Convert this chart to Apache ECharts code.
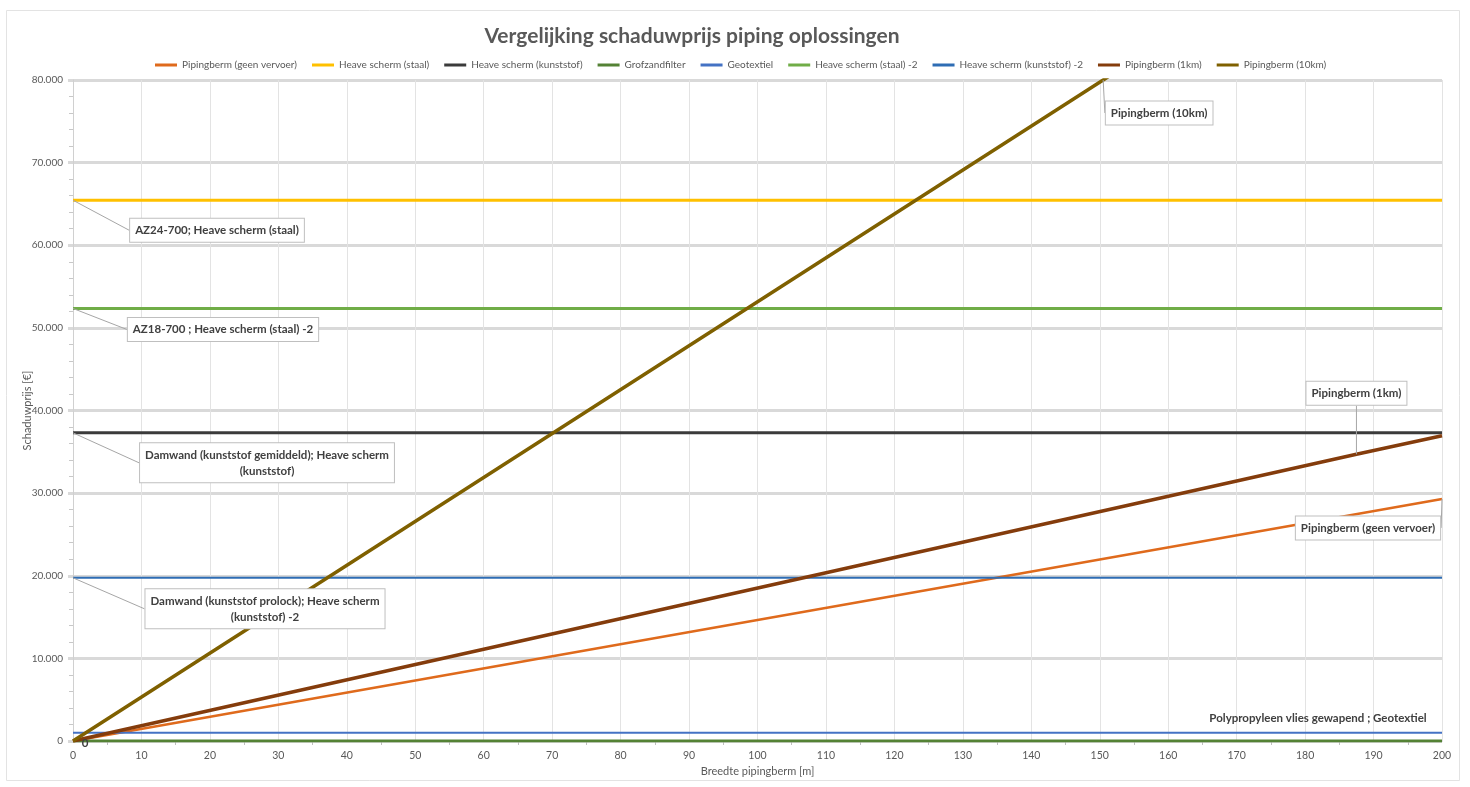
<!DOCTYPE html>
<html>
<head>
<meta charset="utf-8">
<script src="https://cdn.jsdelivr.net/npm/echarts@6/dist/echarts.min.js"></script>
<style>
html,body{margin:0;padding:0;background:#fff;}
#c{width:1470px;height:787px;}
</style>
</head>
<body>
<div id="c"></div>
<script>
// ---- data ----
const seriesNames = [
  'Pipingberm (geen vervoer)', 'Heave scherm (staal)', 'Heave scherm (kunststof)',
  'Grofzandfilter', 'Geotextiel', 'Heave scherm (staal) -2',
  'Heave scherm (kunststof) -2', 'Pipingberm (1km)', 'Pipingberm (10km)'
];
const geenVervoerX = [0, 200];
const geenVervoerY = [0, 29300];
const staalX = [0, 200];
const staalY = [65450, 65450];
const kunststofX = [0, 200];
const kunststofY = [37300, 37300];
const grofzandX = [0, 200];
const grofzandY = [0, 0];
const geotextielX = [0, 200];
const geotextielY = [1000, 1000];
const staal2X = [0, 200];
const staal2Y = [52350, 52350];
const kunststof2X = [0, 200];
const kunststof2Y = [19750, 19750];
const km1X = [0, 187.5, 200];
const km1Y = [0, 34700, 36950];
const km10X = [0, 150.5, 200];
const km10Y = [0, 80000, 106300];

const annotationTexts = {
  'Pipingberm (geen vervoer)': 'Pipingberm (geen vervoer)',
  'Heave scherm (staal)': 'AZ24-700; Heave scherm (staal)',
  'Heave scherm (kunststof)': 'Damwand (kunststof gemiddeld); Heave scherm\n(kunststof)',
  'Grofzandfilter': '0',
  'Geotextiel': 'Polypropyleen vlies gewapend ; Geotextiel',
  'Heave scherm (staal) -2': 'AZ18-700 ; Heave scherm (staal) -2',
  'Heave scherm (kunststof) -2': 'Damwand (kunststof prolock); Heave scherm\n(kunststof) -2',
  'Pipingberm (1km)': 'Pipingberm (1km)',
  'Pipingberm (10km)': 'Pipingberm (10km)'
};
const xTicks = {min: 0, max: 200, interval: 10};
const yTicks = {min: 0, max: 80000, interval: 10000};

// ---- styling ----
const FONT = 'Lato, "Open Sans", sans-serif';
const TXT = '#595959';
const boxLabel = {
  show: true, position: 'inside', fontFamily: FONT, fontSize: 11.5, fontWeight: 'bold',
  color: '#404040', backgroundColor: '#fff', borderColor: '#bfbfbf', borderWidth: 1,
  padding: [4, 5, 3, 5], lineHeight: 16, align: 'center'
};
const plainLabel = {
  show: true, position: 'inside', fontFamily: FONT, fontSize: 11.5, fontWeight: 'bold',
  color: '#404040'
};

function makeData(xs, ys, labelIdx, labelCfg) {
  return xs.map((x, i) => {
    const item = {value: [x, ys[i]]};
    if (i === labelIdx) item.label = labelCfg;
    return item;
  });
}

const defs = [
  {name: seriesNames[0], xs: geenVervoerX, ys: geenVervoerY, color: '#DF6A1C', width: 2.5, li: 1, box: true, dx: -74, dy: 29, line: true},
  {name: seriesNames[1], xs: staalX, ys: staalY, color: '#FFC000', width: 3, li: 0, box: true, dx: 144, dy: 30, line: true},
  {name: seriesNames[2], xs: kunststofX, ys: kunststofY, color: '#3B3B3B', width: 3, li: 0, box: true, dx: 194, dy: 30, line: true},
  {name: seriesNames[3], xs: grofzandX, ys: grofzandY, color: '#548235', width: 3, li: 0, box: false, dx: 12, dy: 2, line: false},
  {name: seriesNames[4], xs: geotextielX, ys: geotextielY, color: '#4472C4', width: 2, li: 1, box: false, dx: -124, dy: -14, line: false},
  {name: seriesNames[5], xs: staal2X, ys: staal2Y, color: '#70AD47', width: 3, li: 0, box: true, dx: 150, dy: 21, line: true},
  {name: seriesNames[6], xs: kunststof2X, ys: kunststof2Y, color: '#2E6DB4', width: 2, li: 0, box: true, dx: 192, dy: 31, line: true},
  {name: seriesNames[7], xs: km1X, ys: km1Y, color: '#843C0C', width: 3.5, li: 1, box: true, dx: 0, dy: -61, line: true},
  {name: seriesNames[8], xs: km10X, ys: km10Y, color: '#7F6000', width: 3.5, li: 1, box: true, dx: 56, dy: 33, line: true}
];

const series = defs.map(d => {
  const lab = Object.assign({}, d.box ? boxLabel : plainLabel, {formatter: annotationTexts[d.name]});
  return {
    name: d.name, type: 'line',
    data: makeData(d.xs, d.ys, d.li, lab),
    symbol: 'circle', symbolSize: 0.1, showSymbol: true, showAllSymbol: true,
    itemStyle: {color: d.color},
    lineStyle: {color: d.color, width: d.width},
    label: {show: false},
    labelLine: {show: d.line, lineStyle: {color: '#a6a6a6', width: 1}},
    labelLayout: {dx: d.dx, dy: d.dy},
    emphasis: {disabled: true},
    clip: true
  };
});

function fmtThousands(v) {
  return String(v).replace(/\B(?=(\d{3})+(?!\d))/g, '.');
}

const chart = echarts.init(document.getElementById('c'));
chart.setOption({
  animation: false,
  backgroundColor: '#fff',
  title: {
    text: 'Vergelijking schaduwprijs piping oplossingen',
    left: 687, top: 21, textAlign: 'center',
    textStyle: {fontFamily: FONT, fontSize: 21, fontWeight: 'bold', color: TXT}
  },
  legend: {
    data: seriesNames, top: 55, left: 150,
    icon: 'rect', itemWidth: 22, itemHeight: 3, itemGap: 15,
    textStyle: {fontFamily: FONT, fontSize: 10, color: TXT}
  },
  grid: {left: 73, right: 28, top: 80, bottom: 46, containLabel: false},
  xAxis: {
    type: 'value', min: xTicks.min, max: xTicks.max, interval: xTicks.interval,
    name: 'Breedte pipingberm [m]', nameLocation: 'middle', nameGap: 25,
    nameTextStyle: {fontFamily: FONT, fontSize: 11, color: TXT},
    axisLine: {show: true, lineStyle: {color: '#bfbfbf', width: 1}},
    axisTick: {show: false},
    minorTick: {show: true, splitNumber: 2, length: 4, lineStyle: {color: '#bfbfbf'}},
    axisLabel: {fontFamily: FONT, fontSize: 10.5, color: TXT, margin: 9},
    splitLine: {show: true, lineStyle: {color: '#e3e3e3', width: 1}}
  },
  yAxis: {
    type: 'value', min: yTicks.min, max: yTicks.max, interval: yTicks.interval,
    name: 'Schaduwprijs [€]', nameLocation: 'middle', nameGap: 40, nameMoveOverlap: false,
    nameTextStyle: {fontFamily: FONT, fontSize: 11, color: TXT},
    axisLine: {show: true, lineStyle: {color: '#d0d0d0', width: 1}},
    axisTick: {show: true, length: 5, lineStyle: {color: '#d9d9d9', width: 3}},
    minorTick: {show: true, splitNumber: 5, length: 4, lineStyle: {color: '#c8c8c8'}},
    axisLabel: {fontFamily: FONT, fontSize: 10, color: TXT, margin: 10, formatter: fmtThousands},
    splitLine: {show: true, lineStyle: {color: '#d9d9d9', width: 3}}
  },
  graphic: [{
    type: 'rect', silent: true, z: -10,
    shape: {x: 6.5, y: 10.5, width: 1453, height: 770},
    style: {fill: 'none', stroke: '#e3e3e3', lineWidth: 1}
  }],
  series: series
});
</script>
</body>
</html>
